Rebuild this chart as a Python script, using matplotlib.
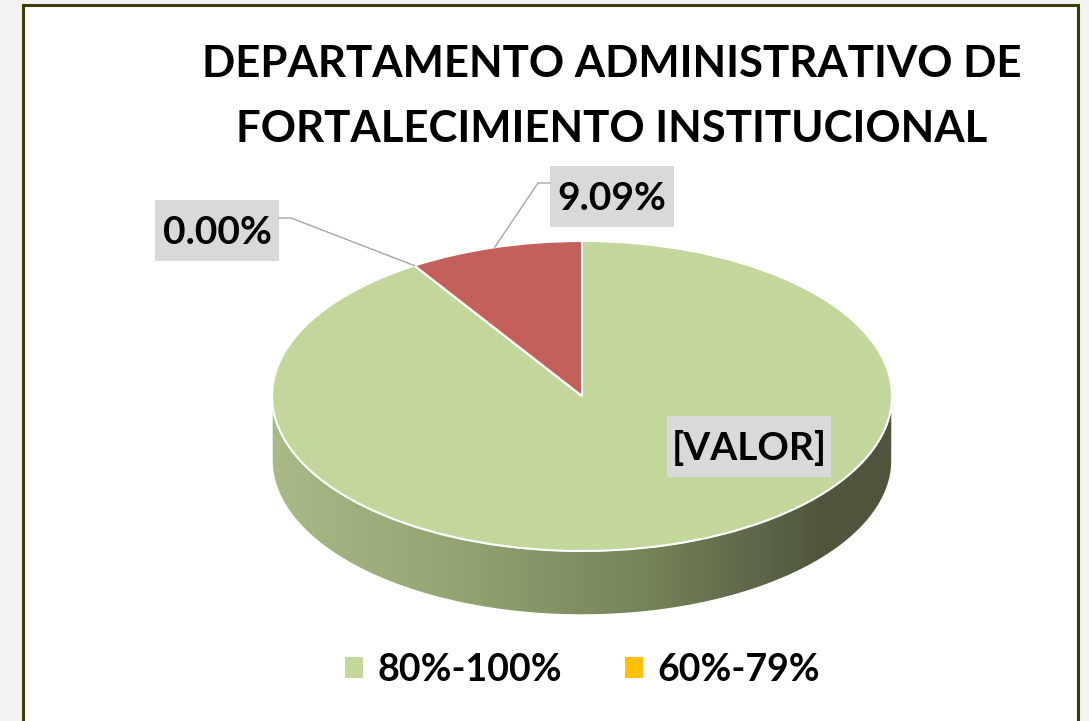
import numpy as np
import matplotlib.pyplot as plt
from matplotlib.colors import LinearSegmentedColormap
from matplotlib.patches import Rectangle, PathPatch
from matplotlib.path import Path

# data
categories = ["80%-100%", "60%-79%", "0%-59%"]
values = [90.91, 0.00, 9.09]
colors = ["#c3d69b", "#ffc000", "#c4605c"]
value_labels = ["[VALOR]", "0.00%", "9.09%"]
title_lines = ["DEPARTAMENTO ADMINISTRATIVO DE", "FORTALECIMIENTO INSTITUCIONAL"]
legend_shown = 2

plt.rcParams["font.family"] = ["Lato", "DejaVu Sans"]
plt.rcParams["font.weight"] = "bold"

W, H = 1089, 721
fig = plt.figure(figsize=(W / 100, H / 100), dpi=100, facecolor="#f3f3f3")

# background axes in pixel coords: frame + title
bg = fig.add_axes([0, 0, 1, 1], zorder=0)
bg.set_xlim(0, W)
bg.set_ylim(H, 0)
bg.axis("off")
bg.add_patch(Rectangle((23, 5), 1055, 740, fc="white", ec="#3d3d05", lw=2.2))
for y, line in zip([77, 142], title_lines):
    bg.text(612, y, line, ha="center", va="baseline", fontsize=31.5, fontweight="bold")

# pie axes: the unit circle is squashed into the tilted ellipse
cx, cy, rx, ry, depth = 582, 396, 310, 155, 64
d = depth / ry
pad = 1.1
left, right = cx - pad * rx, cx + pad * rx
top, bottom = cy - pad * ry, cy + pad * ry + depth
ax = fig.add_axes([left / W, 1 - bottom / H, (right - left) / W, (bottom - top) / H], zorder=1)

wedges, _ = ax.pie(values, colors=colors, startangle=90, counterclock=False,
                   wedgeprops=dict(edgecolor="white", linewidth=1.5, zorder=3))

# side wall of the 3D pie, shaded with a gradient
t = np.linspace(np.pi, 2 * np.pi, 300)
upper = np.column_stack([np.cos(t), np.sin(t)])
lower = np.column_stack([np.cos(t[::-1]), np.sin(t[::-1]) - d])
side = PathPatch(Path(np.vstack([upper, lower, upper[:1]])), fc="none", ec="white", lw=1.0, zorder=2)
ax.add_patch(side)
shade = LinearSegmentedColormap.from_list(
    "side", [(0, "#a9ba88"), (0.3, "#93a371"), (0.6, "#76845a"),
             (0.88, "#50573e"), (1, "#4f553d")])
img = ax.imshow(np.linspace(0, 1, 256)[None, :], cmap=shade, aspect="auto",
                extent=(-1, 1, -1 - d, 0), zorder=1)
img.set_clip_path(side)

ax.set_aspect("auto")
ax.set_xlim(-pad, pad)
ax.set_ylim(-pad - d, pad)
ax.axis("off")

# overlay axes for data labels and leader lines
ov = fig.add_axes([0, 0, 1, 1], zorder=2)
ov.set_xlim(0, W)
ov.set_ylim(H, 0)
ov.axis("off")

label_pos = [(749, 446), (217, 230), (612, 196)]
box_size = [(164, 61), (124, 61), (124, 61)]
leaders = [None, [(279, 218), (291, 218)], [(550, 183), (538, 183)]]
to_ov = ov.transData.inverted()
for w, lab, (lx, ly), (bw, bh), lead in zip(wedges, value_labels, label_pos, box_size, leaders):
    ov.add_patch(Rectangle((lx - bw / 2, ly - bh / 2), bw, bh, fc="#d9d9d9", ec="none"))
    ov.text(lx, ly + 2, lab, ha="center", va="center", fontsize=28, fontweight="bold")
    if lead is not None:
        a = np.deg2rad((w.theta1 + w.theta2) / 2)
        px, py = to_ov.transform(ax.transData.transform((np.cos(a), np.sin(a))))
        ov.plot([p[0] for p in lead] + [px], [p[1] for p in lead] + [py],
                color="#a6a6a6", lw=1.0)

handles = [Rectangle((0, 0), 1, 1, fc=c, ec="none") for c in colors[:legend_shown]]
fig.legend(handles, categories[:legend_shown], loc="center", bbox_to_anchor=(0.535, 1 - 670 / H),
           ncol=legend_shown, frameon=False, handlelength=0.48, handleheight=0.48,
           handletextpad=0.37, columnspacing=1.7, prop=dict(weight="bold", size=27))

fig.savefig("out.png", dpi=100, facecolor=fig.get_facecolor())
